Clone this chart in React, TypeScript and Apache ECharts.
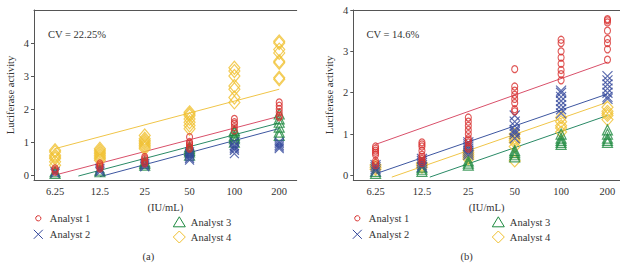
import React, { useEffect, useRef } from 'react';
import * as echarts from 'echarts';

const concentrations = ['6.25', '12.5', '25', '50', '100', '200'];
const yTicksA = [0, 1, 2, 3, 4];
const yTicksB = [0, 1, 2, 3, 4];
const analysts = ['Analyst 1', 'Analyst 2', 'Analyst 3', 'Analyst 4'];
const cvTextA = 'CV = 22.25%';
const cvTextB = 'CV = 14.6%';
const yTitle = 'Luciferase activity';
const xTitle = '(IU/mL)';
const panelLabels = ['(a)', '(b)'];

// Panel (a): replicate values per concentration
const a1A = [[0.1, 0.15, 0.2], [0.2, 0.25, 0.3, 0.35], [0.35, 0.4, 0.45, 0.5, 0.55], [0.8, 0.85, 0.9, 0.95, 1.0, 1.15], [1.35, 1.45, 1.55, 1.6, 1.7], [1.75, 1.8, 1.9, 2.0, 2.1, 2.2]];
const a2A = [[0.05, 0.1], [0.1, 0.15, 0.2], [0.25, 0.3, 0.35], [0.45, 0.5, 0.55, 0.6, 0.65, 0.7], [0.65, 0.75, 0.8, 0.85, 0.9, 1.0], [0.8, 0.85, 0.9, 0.95, 1.0]];
const a3A = [[0.05, 0.1], [0.1, 0.15], [0.3, 0.35, 0.4], [0.6, 0.7, 0.75, 0.8, 0.85], [1.0, 1.1, 1.15, 1.2, 1.3, 1.35], [1.2, 1.3, 1.45, 1.6, 1.7, 1.85]];
const a4A = [[0.3, 0.4, 0.5, 0.55, 0.6, 0.7, 0.75], [0.45, 0.5, 0.55, 0.6, 0.65, 0.7, 0.75, 0.8], [0.8, 0.85, 0.9, 0.95, 1.0, 1.05, 1.1, 1.2], [1.4, 1.5, 1.6, 1.7, 1.8, 1.85, 1.9], [2.2, 2.35, 2.6, 2.7, 3.0, 3.15, 3.25], [2.9, 2.95, 3.4, 3.45, 3.7, 3.8, 4.0, 4.05]];

// Panel (b)
const a1B = [[0.25, 0.3, 0.35, 0.5, 0.55, 0.6, 0.65, 0.7], [0.3, 0.35, 0.4, 0.45, 0.5, 0.6, 0.7, 0.75, 0.8], [0.65, 0.7, 0.8, 0.85, 0.9, 1.0, 1.1, 1.2, 1.3, 1.4], [1.55, 1.6, 1.75, 1.85, 1.95, 2.05, 2.15, 2.57], [2.3, 2.45, 2.55, 2.7, 2.85, 3.0, 3.2, 3.28], [2.8, 3.05, 3.2, 3.3, 3.5, 3.7, 3.75, 3.78]];
const a2B = [[0.1, 0.15, 0.2, 0.25], [0.2, 0.25, 0.3, 0.35, 0.4], [0.5, 0.55, 0.6, 0.65, 0.7, 0.75, 0.8], [0.9, 1.0, 1.05, 1.1, 1.2, 1.3, 1.45], [1.5, 1.6, 1.7, 1.8, 1.9, 2.0, 2.05], [1.85, 1.9, 2.0, 2.1, 2.2, 2.3, 2.4]];
const a3B = [[0.05, 0.1], [0.1, 0.15, 0.2], [0.25, 0.3, 0.35], [0.45, 0.5, 0.55, 0.6], [0.75, 0.8, 0.85, 0.9, 1.0], [0.8, 0.85, 0.9, 1.0, 1.1]];
const a4B = [[0.15, 0.2, 0.25], [0.2, 0.25, 0.3], [0.4, 0.45, 0.5, 0.55, 0.6], [0.35, 0.7, 0.8, 0.85, 0.9, 1.0], [1.05, 1.15, 1.2, 1.3, 1.4], [1.35, 1.45, 1.5, 1.55, 1.65]];

// Fitted lines: [start index, start value, end value at last concentration]
const fitA = [[0, 0.0, 1.78], [1, -0.05, 1.41], [0.52, -0.03, 1.58], [0, 0.8, 2.6]];
const fitB = [[0, 0.75, 2.74], [0, 0.04, 1.97], [1.17, -0.04, 1.45], [0.35, -0.04, 1.77]];

const markerColors = ['#d8312f', '#33479b', '#1e8a40', '#f0c030'];
const lineColors = ['#d9506a', '#3d56a0', '#2a8a66', '#f0c548'];
const FONT = '"Liberation Serif", "Times New Roman", serif';
const TEXT = '#333';
const AXIS = '#555';
const xPath = 'path://M0,0L10,10M10,0L0,10';
const symbols = ['circle', xPath, 'triangle', 'diamond'];
const symbolSizesA: any[] = [[6, 7], 9, 10, [11, 13]];
const symbolSizesB: any[] = [[6, 7], [10, 10], 10, [11, 12]];

function flatten(groups: number[][]) {
  const out: number[][] = [];
  groups.forEach((vals, i) => vals.forEach((v) => out.push([i, v])));
  return out;
}

export default function App() {
  const ref = useRef<HTMLDivElement>(null);
  useEffect(() => {
    document.body.style.margin = '0';
    const chart = echarts.init(ref.current!, null, { renderer: 'svg' });
    const panels = [
      { data: [a1A, a2A, a3A, a4A], fit: fitA, sizes: symbolSizesA },
      { data: [a1B, a2B, a3B, a4B], fit: fitB, sizes: symbolSizesB },
    ];
    const series: any[] = [];
    panels.forEach((p, pi) => {
      [3, 2, 1, 0].forEach((k) => {
        const f = p.fit[k];
        series.push({
          type: 'line',
          name: analysts[k],
          xAxisIndex: pi,
          yAxisIndex: pi,
          data: [[f[0], f[1]], [5, f[2]]],
          symbol: 'none',
          lineStyle: { color: lineColors[k], width: 1 },
          silent: true,
          z: 2,
        });
      });
      [3, 2, 1, 0].forEach((k) => {
        series.push({
          type: 'scatter',
          name: analysts[k],
          xAxisIndex: pi,
          yAxisIndex: pi,
          data: flatten(p.data[k]),
          symbol: symbols[k],
          symbolSize: p.sizes[k],
          itemStyle: { color: 'transparent', borderColor: markerColors[k], borderWidth: 1.2 },
          z: 3,
        });
      });
    });

    const xLabelStyle = {
      fontFamily: FONT, fontSize: 10.5, color: TEXT, margin: 6,
      customValues: [0, 1, 2, 3, 4, 5],
      formatter: (v: number) => concentrations[Math.round(v)] ?? '',
    };
    const xAxisBase = (gi: number, min: number, max: number) => ({
      type: 'value', gridIndex: gi, min, max,
      axisLine: { show: true, onZero: false, lineStyle: { color: AXIS, width: 1 } },
      axisTick: { show: false },
      splitLine: { show: false },
      axisLabel: xLabelStyle,
      name: xTitle, nameLocation: 'middle', nameGap: 21,
      nameTextStyle: { fontFamily: FONT, fontSize: 10.5, color: TEXT },
    });
    const topAxis = (gi: number, min: number, max: number) => ({
      type: 'value', gridIndex: gi, min, max, position: 'top',
      axisLine: { show: true, onZero: false, lineStyle: { color: AXIS, width: 1 } },
      axisTick: { show: false }, axisLabel: { show: false }, splitLine: { show: false },
    });
    const yAxisBase = (gi: number, min: number, max: number, ticks: number[]) => ({
      type: 'value', gridIndex: gi, min, max,
      axisLine: { show: true, onZero: false, lineStyle: { color: AXIS, width: 1 } },
      axisTick: { show: true, length: 3, customValues: ticks, lineStyle: { color: AXIS } },
      splitLine: { show: false },
      axisLabel: { fontFamily: FONT, fontSize: 10.5, color: TEXT, margin: 5, customValues: ticks },
      name: yTitle, nameLocation: 'middle', nameGap: 18, nameRotate: 90,
      nameTextStyle: { fontFamily: FONT, fontSize: 10.5, color: TEXT },
    });

    const legendGraphics: any[] = [];
    const legendPos = [
      [[38.3, 218.3], [38.3, 234.3], [179.3, 222.3], [179.3, 237]],
      [[357.3, 218.3], [357.3, 234.3], [498.3, 222.3], [498.3, 237]],
    ];
    legendPos.forEach((pos) => {
      pos.forEach(([cx, cy], k) => {
        const stroke = markerColors[k];
        const style = { fill: 'none', stroke, lineWidth: 1 };
        if (k === 0) legendGraphics.push({ type: 'circle', shape: { cx, cy, r: 2.6 }, style });
        if (k === 1) {
          legendGraphics.push({ type: 'line', shape: { x1: cx - 4.5, y1: cy - 4.5, x2: cx + 4.5, y2: cy + 4.5 }, style });
          legendGraphics.push({ type: 'line', shape: { x1: cx + 4.5, y1: cy - 4.5, x2: cx - 4.5, y2: cy + 4.5 }, style });
        }
        if (k === 2) legendGraphics.push({ type: 'polygon', shape: { points: [[cx, cy - 5.5], [cx + 6, cy + 4.5], [cx - 6, cy + 4.5]] }, style });
        if (k === 3) legendGraphics.push({ type: 'polygon', shape: { points: [[cx, cy - 6], [cx + 6, cy], [cx, cy + 6], [cx - 6, cy]] }, style });
        legendGraphics.push({
          type: 'text', x: cx + 11.5, y: cy,
          style: { text: analysts[k], fontFamily: FONT, fontSize: 10.5, fill: TEXT, textVerticalAlign: 'middle' },
        });
      });
    });

    chart.setOption({
      animation: false,
      grid: [
        { left: 34, top: 10, width: 262.7, height: 170 },
        { left: 353.3, top: 10, width: 266.7, height: 170 },
      ],
      xAxis: [
        xAxisBase(0, -0.47, 5.39),
        xAxisBase(1, -0.48, 5.27),
        topAxis(0, -0.47, 5.39),
        topAxis(1, -0.48, 5.27),
      ],
      yAxis: [
        yAxisBase(0, -0.15, 5.0, yTicksA),
        yAxisBase(1, -0.11, 4.0, yTicksB),
      ],
      series,
      graphic: [
        { type: 'text', x: 48, y: 34, style: { text: cvTextA, fontFamily: FONT, fontSize: 10.5, fill: TEXT, textVerticalAlign: 'middle' } },
        { type: 'text', x: 366.5, y: 34, style: { text: cvTextB, fontFamily: FONT, fontSize: 10.5, fill: TEXT, textVerticalAlign: 'middle' } },
        { type: 'text', x: 148.3, y: 256.5, style: { text: panelLabels[0], fontFamily: FONT, fontSize: 10.5, fill: TEXT, textAlign: 'center', textVerticalAlign: 'middle' } },
        { type: 'text', x: 466.7, y: 256.5, style: { text: panelLabels[1], fontFamily: FONT, fontSize: 10.5, fill: TEXT, textAlign: 'center', textVerticalAlign: 'middle' } },
        ...legendGraphics,
      ],
    });
    return () => chart.dispose();
  }, []);
  return <div ref={ref} style={{ width: 620, height: 265 }} />;
}
